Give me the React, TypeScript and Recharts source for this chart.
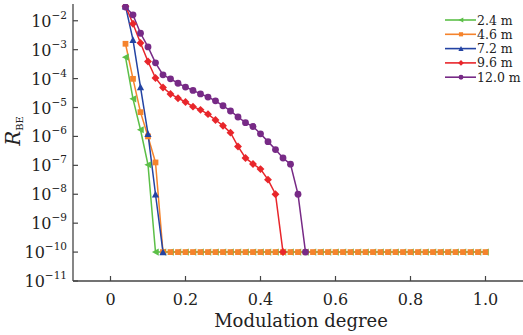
import React from 'react';
import { LineChart, Line, XAxis, YAxis, Label } from 'recharts';

// modulation degree (x) and R_BE per distance
const F = 1e-10; // floor value the curves drop to

const degree = [
  0.04, 0.06, 0.08, 0.1, 0.12, 0.14, 0.16, 0.18, 0.2, 0.22,
  0.24, 0.26, 0.28, 0.3, 0.32, 0.34, 0.36, 0.38, 0.4, 0.42,
  0.44, 0.46, 0.48, 0.5, 0.52, 0.54, 0.56, 0.58, 0.6, 0.62,
  0.64, 0.66, 0.68, 0.7, 0.72, 0.74, 0.76, 0.78, 0.8, 0.82,
  0.84, 0.86, 0.88, 0.9, 0.92, 0.94, 0.96, 0.98, 1.0,
];

const m24 = [
  5.5e-4, 2.0e-5, 1.7e-6, 1.05e-7, F, F, F, F, F, F,
  F, F, F, F, F, F, F, F, F, F,
  F, F, F, F, F, F, F, F, F, F,
  F, F, F, F, F, F, F, F, F, F,
  F, F, F, F, F, F, F, F, F,
];

const m46 = [
  1.6e-3, 9.8e-5, 6.9e-6, 1.0e-6, 1.26e-7, F, F, F, F, F,
  F, F, F, F, F, F, F, F, F, F,
  F, F, F, F, F, F, F, F, F, F,
  F, F, F, F, F, F, F, F, F, F,
  F, F, F, F, F, F, F, F, F,
];

const m72 = [3.2e-2, 2.2e-3, 5.1e-5, 1.23e-6, 1.0e-8, F];

const m96 = [
  3.2e-2, 7.9e-3, 1.7e-3, 3.9e-4, 1.05e-4, 4.9e-5, 2.95e-5, 2.1e-5, 1.55e-5, 1.07e-5,
  8.3e-6, 5.9e-6, 3.7e-6, 2.35e-6, 1.35e-6, 4.5e-7, 1.8e-7, 1.12e-7, 7.4e-8, 3.2e-8,
  1.0e-8, F,
];

const m120 = [
  3.0e-2, 1.6e-2, 3.7e-3, 1.25e-3, 3.5e-4, 1.35e-4, 9.8e-5, 6.9e-5, 5.1e-5, 3.9e-5,
  2.95e-5, 2.3e-5, 1.7e-5, 1.15e-5, 7.6e-6, 4.7e-6, 3.0e-6, 2.2e-6, 1.23e-6, 6.6e-7,
  3.5e-7, 1.8e-7, 1.1e-7, 1.0e-8, F,
];

const seriesNames = ['2.4 m', '4.6 m', '7.2 m', '9.6 m', '12.0 m'];
const seriesKeys = ['s24', 's46', 's72', 's96', 's120'];
const seriesColors = ['#5cbf48', '#f5832c', '#2343a3', '#e8262b', '#772a86'];
const seriesShapes = ['left', 'square', 'up', 'diamond', 'circle'];

const yTicks = [1e-11, 1e-10, 1e-9, 1e-8, 1e-7, 1e-6, 1e-5, 1e-4, 1e-3, 1e-2];
const xTicks = [0, 0.2, 0.4, 0.6, 0.8, 1.0];

const data = degree.map((m, i) => ({
  m,
  s24: m24[i] ?? null,
  s46: m46[i] ?? null,
  s72: m72[i] ?? null,
  s96: m96[i] ?? null,
  s120: m120[i] ?? null,
}));

const FONT = '"DejaVu Serif", serif';
const AXIS = '#444';

function Marker({ shape, cx, cy, color, s = 3.6 }: any) {
  if (shape === 'left')
    return <polygon points={`${cx - s},${cy} ${cx + s * 0.9},${cy - s} ${cx + s * 0.9},${cy + s}`} fill={color} />;
  if (shape === 'up')
    return <polygon points={`${cx},${cy - s} ${cx + s},${cy + s * 0.9} ${cx - s},${cy + s * 0.9}`} fill={color} />;
  if (shape === 'square')
    return <rect x={cx - s * 0.8} y={cy - s * 0.8} width={s * 1.6} height={s * 1.6} fill={color} />;
  if (shape === 'diamond')
    return <polygon points={`${cx},${cy - s * 1.1} ${cx + s * 1.1},${cy} ${cx},${cy + s * 1.1} ${cx - s * 1.1},${cy}`} fill={color} />;
  return <circle cx={cx} cy={cy} r={s * 0.95} fill={color} />;
}

const makeDot = (idx: number) => (props: any) => {
  const { cx, cy, index } = props;
  if (cx == null || cy == null || props.value == null) return <g key={`${idx}-${index}`} />;
  return (
    <g key={`${idx}-${index}`}>
      <Marker shape={seriesShapes[idx]} cx={cx} cy={cy} color={seriesColors[idx]} />
    </g>
  );
};

function YTick(props: any) {
  const { x, y, payload } = props;
  const exp = Math.round(Math.log10(payload.value));
  return (
    <text x={x} y={y + 6} textAnchor="end" fontFamily={FONT} fill="#222">
      <tspan fontSize={16}>10</tspan>
      <tspan fontSize={10.5} dy={-8}>{`\u2212${-exp}`}</tspan>
    </text>
  );
}

function YLabel() {
  return (
    <text transform="translate(20,131) rotate(-90)" textAnchor="middle" fontFamily={FONT} fill="#222">
      <tspan fontSize={20} fontStyle="italic">R</tspan>
      <tspan fontSize={10} dy={3}>BE</tspan>
    </text>
  );
}

function LegendBox() {
  return (
    <svg width={83} height={78} style={{ position: 'absolute', left: 440, top: 12 }}>
      {seriesNames.map((name, i) => {
        const y = 8 + i * 14.3;
        return (
          <g key={name}>
            <line x1={5} x2={36} y1={y} y2={y} stroke={seriesColors[i]} strokeWidth={1.6} />
            <Marker shape={seriesShapes[i]} cx={21} cy={y} color={seriesColors[i]} s={2.6} />
            <text x={37} y={y + 4.5} fontSize={12.5} fontFamily={FONT} fill="#222">{name}</text>
          </g>
        );
      })}
    </svg>
  );
}

export default function App() {
  return (
    <div style={{ position: 'absolute', left: 0, top: 0, width: 523, height: 335, background: '#fff' }}>
      <LineChart
        width={523}
        height={335}
        data={data}
        margin={{ top: 4, right: 0, bottom: 0, left: 0 }}
        style={{ fontFamily: FONT }}
      >
        <XAxis
          xAxisId="top"
          orientation="top"
          type="number"
          dataKey="m"
          domain={[-0.1, 1.1]}
          height={0}
          tick={false}
          tickLine={false}
          axisLine={{ stroke: AXIS, strokeWidth: 1.3 }}
        />
        <XAxis
          type="number"
          dataKey="m"
          domain={[-0.1, 1.1]}
          allowDataOverflow
          ticks={xTicks}
          interval={0}
          height={54}
          tickSize={-5}
          tickMargin={18}
          tickFormatter={(v: number) => (v === 0 ? '0' : v.toFixed(1))}
          tick={{ fontSize: 16, fill: '#222', fontFamily: FONT }}
          axisLine={{ stroke: AXIS, strokeWidth: 1.3 }}
          tickLine={{ stroke: AXIS, strokeWidth: 1.2 }}
        >
          <Label value="Modulation degree" position="insideBottom" offset={8} dx={3} fontSize={18} fill="#222" fontFamily={FONT} />
        </XAxis>
        <YAxis
          scale="log"
          type="number"
          domain={[1e-11, 0.038]}
          allowDataOverflow
          ticks={yTicks}
          interval={0}
          width={73}
          tickSize={-5}
          tickMargin={11}
          tick={<YTick />}
          axisLine={{ stroke: AXIS, strokeWidth: 1.3 }}
          tickLine={{ stroke: AXIS, strokeWidth: 1.2 }}
          label={<YLabel />}
        />
        {seriesKeys.map((k, i) => (
          <Line
            key={k}
            dataKey={k}
            name={seriesNames[i]}
            type="linear"
            stroke={seriesColors[i]}
            strokeWidth={1.5}
            dot={makeDot(i)}
            activeDot={false}
            isAnimationActive={false}
          />
        ))}
      </LineChart>
      <LegendBox />
    </div>
  );
}
